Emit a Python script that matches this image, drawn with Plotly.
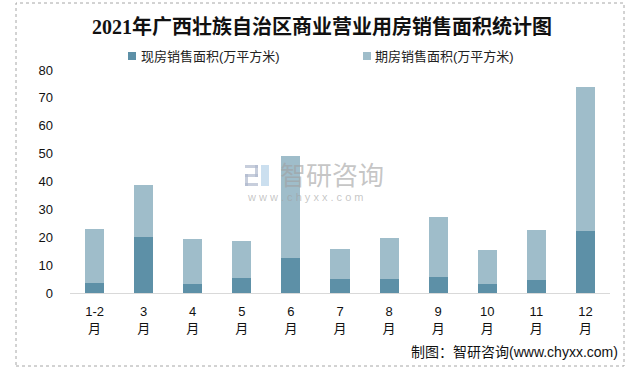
import plotly.graph_objects as go

months = ["1-2<br>月", "3<br>月", "4<br>月", "5<br>月", "6<br>月", "7<br>月",
          "8<br>月", "9<br>月", "10<br>月", "11<br>月", "12<br>月"]
existing = [3.7, 20.1, 3.3, 5.4, 12.5, 5.0, 5.0, 5.7, 3.3, 4.7, 22.2]
presale = [19.2, 18.6, 16.1, 13.3, 36.6, 10.8, 14.7, 21.5, 12.1, 17.9, 51.6]
name_existing = "现房销售面积(万平方米)"
name_presale = "期房销售面积(万平方米)"
title_text = "2021年广西壮族自治区商业营业用房销售面积统计图"
source_text = "制图：智研咨询(www.chyxx.com)"

C_DARK = "#5D90A7"
C_LIGHT = "#9FBDCA"
FONT = "Liberation Sans, Noto Sans CJK SC, sans-serif"

# plot area in pixels
L, R, T, B = 70, 610, 70, 293


def px(x):
    return (x - L) / (R - L)


def py(y):
    return (B - y) / (B - T)


fig = go.Figure()
fig.add_trace(go.Bar(x=months, y=existing, name=name_existing, showlegend=False,
                     marker=dict(color=C_DARK, line=dict(width=0))))
fig.add_trace(go.Bar(x=months, y=presale, name=name_presale, showlegend=False,
                     marker=dict(color=C_LIGHT, line=dict(width=0))))

fig.update_layout(
    width=631, height=370,
    barmode="stack", bargap=0.61,
    margin=dict(l=L, r=631 - R, t=T, b=370 - B),
    paper_bgcolor="white", plot_bgcolor="white",
    font=dict(family=FONT, size=13, color="#222222"),
    title=dict(text="<b>" + title_text + "</b>", xref="container", x=322 / 631,
               xanchor="center", yref="container", y=1 - 27 / 370, yanchor="middle",
               font=dict(family="Liberation Serif, Noto Sans CJK SC, serif", size=20, color="#111111")),
    showlegend=False,
)
fig.update_xaxes(showgrid=False, showline=True, linecolor="#d9d9d9", linewidth=1,
                 ticks="", tickfont=dict(size=13, color="#111111"), ticklabelstandoff=6)
fig.update_yaxes(range=[0, 80], dtick=10, showgrid=False, zeroline=False, showline=False,
                 ticks="", tickfont=dict(size=13, color="#111111"), ticklabelstandoff=16)

# outer border
fig.add_shape(type="rect", xref="paper", yref="paper",
              x0=px(16), x1=px(624), y0=py(366), y1=py(3),
              line=dict(color="#a6a6a6", width=1, dash="dot"), fillcolor="rgba(0,0,0,0)",
              layer="below")

# manual legend
for (mx, tx, col, name) in [(128, 139, C_DARK, name_existing), (363, 373, C_LIGHT, name_presale)]:
    fig.add_shape(type="rect", xref="paper", yref="paper",
                  x0=px(mx), x1=px(mx + 8), y0=py(60), y1=py(52),
                  line=dict(width=0), fillcolor=col)
    fig.add_annotation(text=name, xref="paper", yref="paper", x=px(tx), y=py(56),
                       xanchor="left", yanchor="middle", showarrow=False,
                       font=dict(size=13, color="#222222"))

# watermark
wm = "rgba(160,160,160,0.6)"
fig.add_annotation(text="智研咨询", xref="paper", yref="paper",
                   x=px(278), y=py(176), xanchor="left", yanchor="middle", showarrow=False,
                   font=dict(size=26, color=wm))
fig.add_annotation(text="w w w . c h y x x . c o m", xref="paper", yref="paper",
                   x=px(245), y=py(197), xanchor="left", yanchor="middle", showarrow=False,
                   font=dict(size=11, color=wm))
# logo blocks
for (x0, y0, x1, y1, c) in [
    (245, 165, 258, 168, "rgba(175,185,205,0.7)"),
    (255, 165, 258, 177, "rgba(175,185,205,0.7)"),
    (245, 174, 258, 177, "rgba(175,185,205,0.7)"),
    (245, 174, 248, 186, "rgba(175,185,205,0.7)"),
    (245, 183, 258, 186, "rgba(175,185,205,0.7)"),
    (261, 165, 269, 186, "rgba(190,215,235,0.8)"),
]:
    fig.add_shape(type="rect", xref="paper", yref="paper",
                  x0=px(x0), x1=px(x1), y0=py(y1), y1=py(y0),
                  line=dict(width=0), fillcolor=c, layer="below")

# source
fig.add_annotation(text=source_text, xref="paper", yref="paper",
                   x=px(620), y=py(352), xanchor="right", yanchor="middle",
                   showarrow=False, font=dict(size=14, color="#111111"))

fig.write_html("out.html", config={"displayModeBar": False},
               post_script="document.body.style.margin='0';")
